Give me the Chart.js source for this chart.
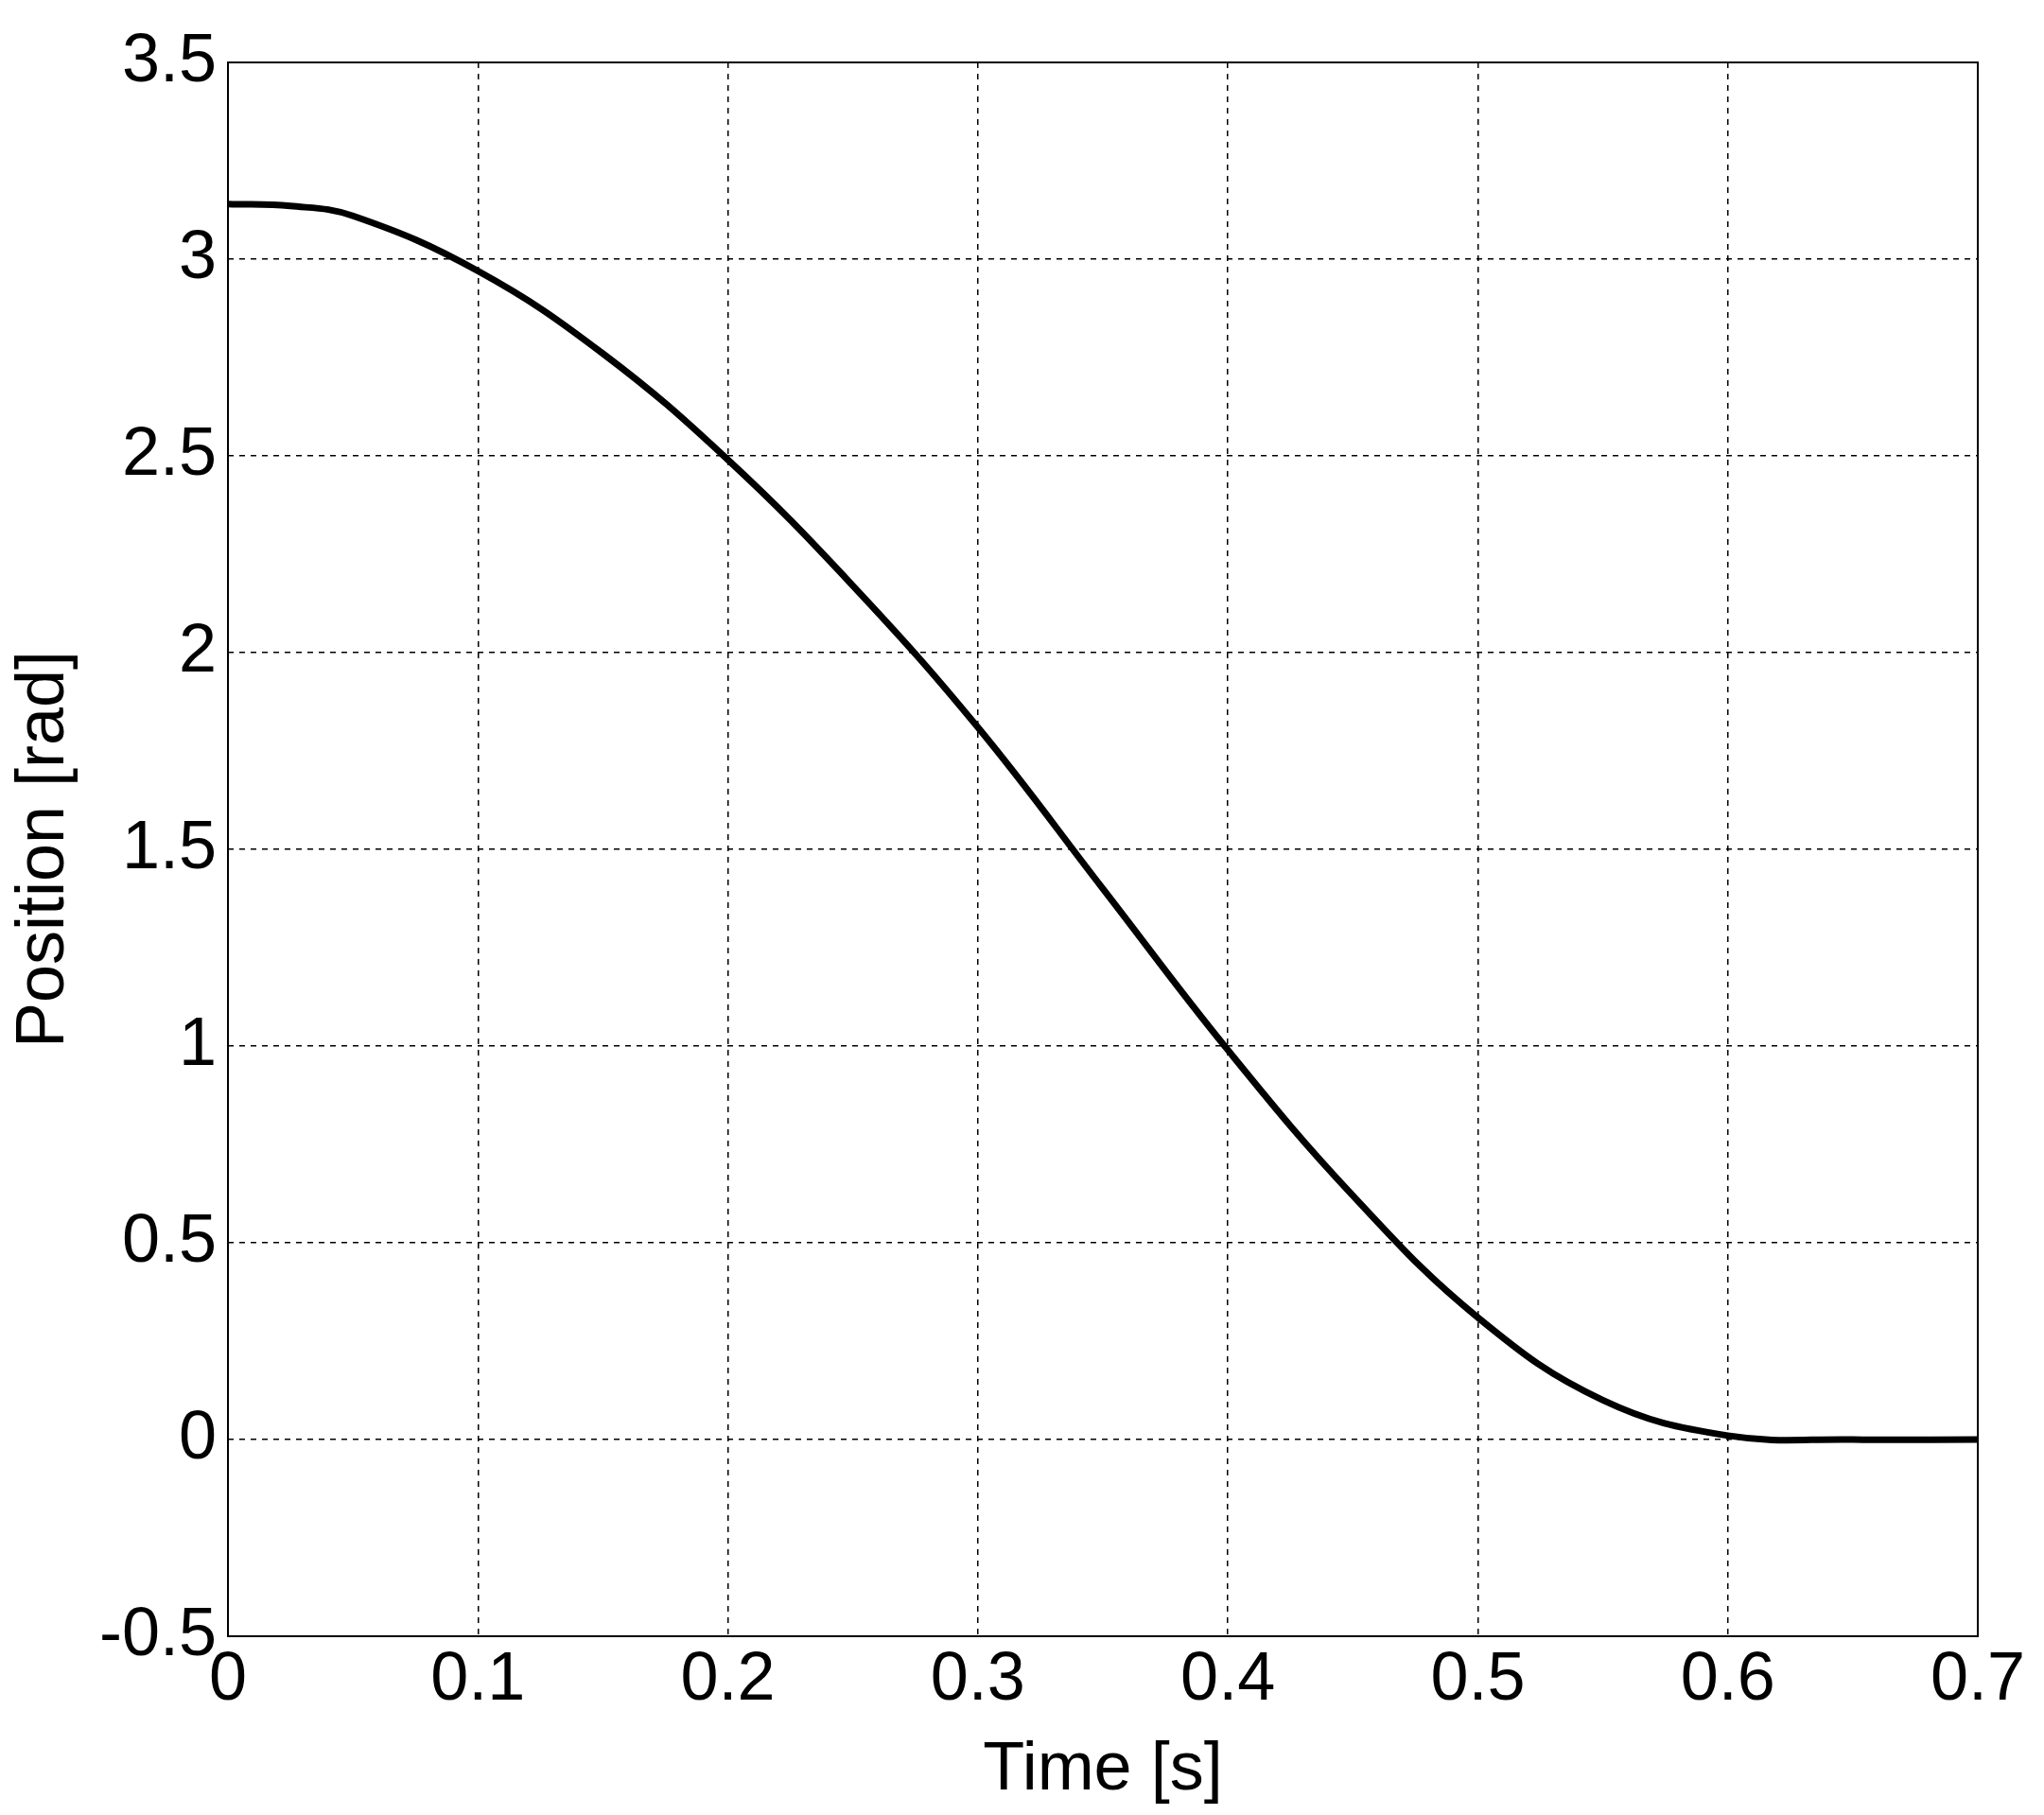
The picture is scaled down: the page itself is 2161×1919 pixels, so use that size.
<!DOCTYPE html>
<html>
<head>
<meta charset="utf-8">
<script src="https://cdn.jsdelivr.net/npm/chart.js@4"></script>
<style>
  body { margin: 0; background: #fff; }
  #c { width: 2161px; height: 1919px; display: block; }
</style>
</head>
<body>
<canvas id="c" width="2161" height="1919"></canvas>
<script>
const times = [0, 0.025, 0.05, 0.1, 0.15, 0.2, 0.25, 0.3, 0.35, 0.4, 0.45, 0.5, 0.55, 0.6, 0.65, 0.7];
const positions = [3.14, 3.135, 3.11, 2.97, 2.76, 2.49, 2.17, 1.81, 1.40, 0.99, 0.62, 0.31, 0.10, 0.01, 0.0, 0.0];
const xTicks = [0, 0.1, 0.2, 0.3, 0.4, 0.5, 0.6, 0.7];
const yTicks = [-0.5, 0, 0.5, 1, 1.5, 2, 2.5, 3, 3.5];

const font = { family: "'Liberation Sans', Arial, sans-serif", size: 72 };

new Chart(document.getElementById("c"), {
    type: "line",
    data: {
        datasets: [{
            data: times.map((t, i) => ({ x: t, y: positions[i] })),
            borderColor: "#000",
            borderWidth: 7,
            pointRadius: 0,
            tension: 0.4,
            fill: false
        }]
    },
    options: {
        responsive: false,
        devicePixelRatio: 1,
        animation: false,
        layout: { padding: { top: 66, right: 70, left: 0, bottom: 0 } },
        plugins: { legend: { display: false }, tooltip: { enabled: false } },
        scales: {
            x: {
                type: "linear",
                min: 0, max: 0.7,
                afterBuildTicks: s => { s.ticks = xTicks.map(v => ({ value: v })); },
                afterFit: s => { s.height = 1919 - 1730; },
                ticks: { font, color: "#000", padding: 4, callback: v => String(v) },
                grid: { color: "#000", lineWidth: 1.5, drawTicks: false },
                border: { display: false, dash: [6, 6] },
                title: { display: true, text: "Time [s]", font, color: "#000", padding: { top: -22 } }
            },
            y: {
                min: -0.5, max: 3.5,
                afterBuildTicks: s => { s.ticks = yTicks.map(v => ({ value: v })); },
                afterFit: s => { s.width = 241; },
                ticks: { font, color: "#000", padding: 12, callback: v => String(v) },
                grid: { color: "#000", lineWidth: 1.5, drawTicks: false },
                border: { display: false, dash: [6, 6] },
                title: { display: true, text: "Position [rad]", font, color: "#000", padding: { bottom: 0 } }
            }
        }
    },
    plugins: [{
        id: "frame",
        afterDraw(chart) {
            const { ctx, chartArea: a } = chart;
            ctx.save();
            ctx.strokeStyle = "#000";
            ctx.lineWidth = 2;
            ctx.setLineDash([]);
            ctx.strokeRect(a.left, a.top, a.right - a.left, a.bottom - a.top);
            ctx.restore();
        }
    }]
});
</script>
</body>
</html>
